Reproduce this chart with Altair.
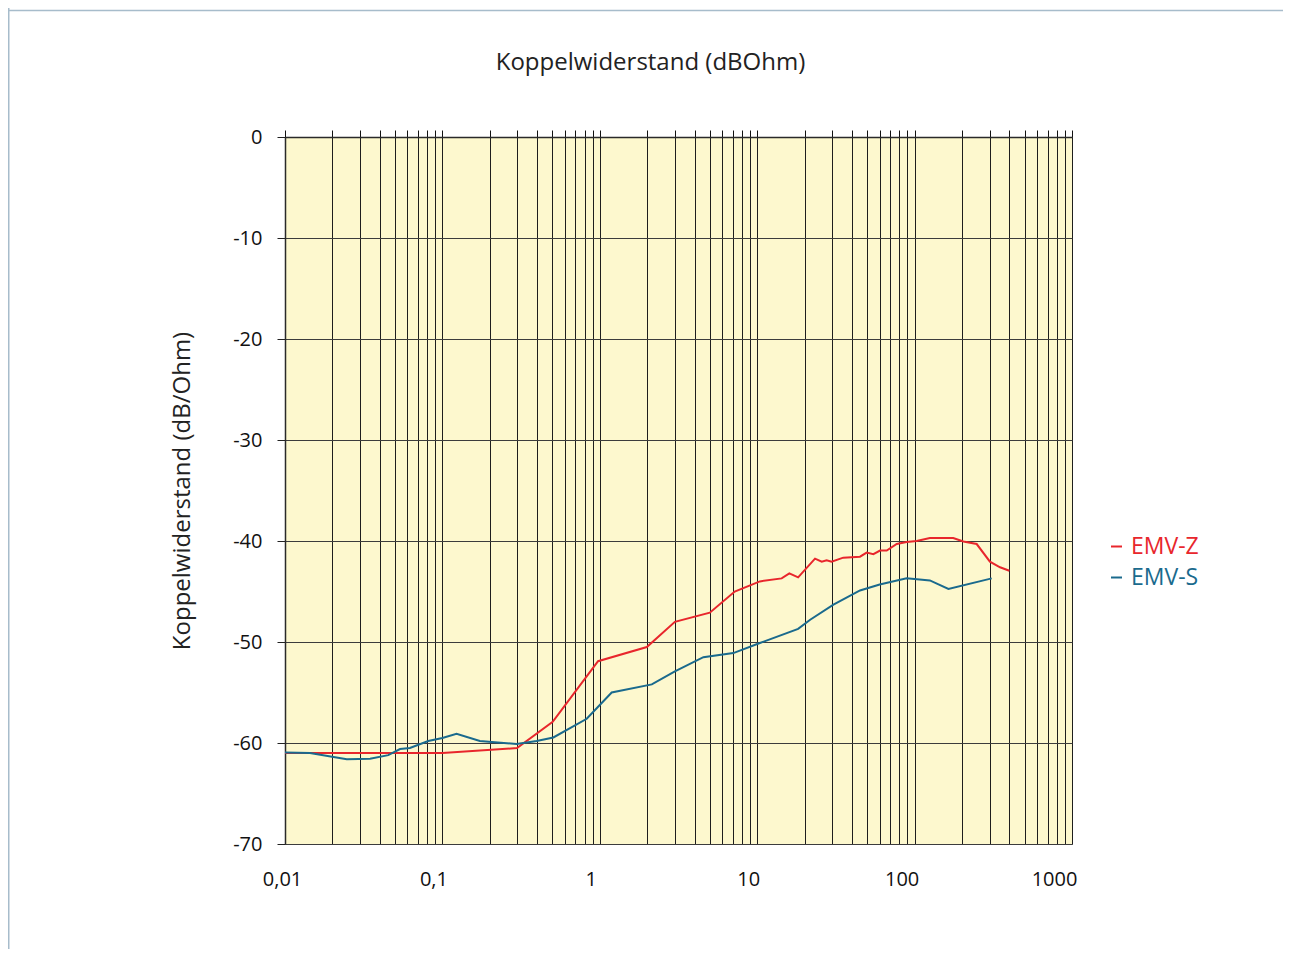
import altair as alt
import pandas as pd

# ---- data ----
series_names = ["EMV-Z", "EMV-S"]
series_colors = ["#E8262C", "#1A6A8D"]

red_x = [0.01, 0.05, 0.1, 0.298, 0.502, 0.975, 1.99, 3.0, 5.0, 7.2, 10.4, 14.3, 16.0, 18.2,
         23.3, 25.7, 27.6, 29.7, 35.2, 45, 49.6, 54.7, 60.3, 66.5, 77, 89, 103, 125, 176,
         204, 248, 301, 349, 400]
red_y = [-61.0, -61.0, -61.0, -60.5, -57.9, -51.9, -50.5, -48.0, -47.1, -45.0, -44.0, -43.7,
         -43.2, -43.6, -41.75, -42.05, -41.9, -42.05, -41.65, -41.55, -41.15, -41.3, -40.95,
         -40.95, -40.3, -40.1, -40.0, -39.7, -39.7, -40.05, -40.3, -42.05, -42.6, -42.95]

blue_x = [0.01, 0.0144, 0.0247, 0.0347, 0.0453, 0.0538, 0.0622, 0.0813, 0.1, 0.123, 0.173,
          0.296, 0.397, 0.507, 0.826, 1.19, 2.14, 3.0, 4.55, 7.05, 10.4, 18.2, 21.7, 30.5,
          45, 60, 89, 125, 164, 309]
blue_y = [-60.95, -61.0, -61.6, -61.55, -61.2, -60.6, -60.5, -59.8, -59.5, -59.1, -59.8,
          -60.1, -59.8, -59.45, -57.6, -55.0, -54.2, -52.9, -51.5, -51.1, -50.1, -48.7,
          -47.8, -46.3, -44.9, -44.3, -43.7, -43.9, -44.75, -43.7]

x_grid = [0.01, 0.02, 0.03, 0.04, 0.05, 0.06, 0.07, 0.08, 0.09,
          0.1, 0.2, 0.3, 0.4, 0.5, 0.6, 0.7, 0.8, 0.9,
          1, 2, 3, 4, 5, 6, 7, 8, 9,
          10, 20, 30, 40, 50, 60, 70, 80, 90,
          100, 200, 300, 400, 500, 600, 700, 800, 900, 1000]
x_label_values = [0.01, 0.1, 1, 10, 100, 1000]
x_label_texts = ["0,01", "0,1", "1", "10", "100", "1000"]
y_ticks = [-70, -60, -50, -40, -30, -20, -10, 0]

chart_title = "Koppelwiderstand (dBOhm)"
y_title = "Koppelwiderstand (dB/Ohm)"

df = pd.DataFrame({
    "f": red_x + blue_x,
    "v": red_y + blue_y,
    "series": [series_names[0]] * len(red_x) + [series_names[1]] * len(blue_x),
})

FONT = "Open Sans"
W, H = 787, 707
PAD = {"left": 277, "top": 129, "right": 211, "bottom": 105}

label_map = "{" + ", ".join(f"'{v}': '{t}'" for v, t in zip(x_label_values, x_label_texts)) + "}"
x_label_expr = f"{label_map}['' + datum.value] || ''"

xscale = alt.Scale(type="log", domain=[0.01, 1000], nice=False)
yscale = alt.Scale(domain=[-70, 0], nice=False)

bottom_axis = alt.Axis(
    orient="bottom", values=x_grid, grid=True, gridColor="#1e1e1e", gridWidth=1,
    ticks=False, tickSize=0, domain=False, labelExpr=x_label_expr,
    labelFont=FONT, labelFontSize=20, labelColor="#111111", labelPadding=25,
    labelOverlap=False, labelFlush=False,
    labelOffset={"expr": "datum.value < 0.05 ? -3 : (datum.value > 500 ? -18 : (datum.value > 50 ? -13 : -9))"},
    title=None,
)
top_axis = alt.Axis(
    orient="top", values=x_grid, grid=False, labels=False, ticks=True, tickSize=7,
    tickColor="#111111", domain=True, domainColor="#2a2a2a", domainWidth=1.5, title=None,
)
left_axis = alt.Axis(
    values=y_ticks, grid=True, gridColor="#3c3c3c", gridWidth=1, tickSize=8,
    tickColor="#222222", domainColor="#2a2a2a", domainWidth=1.5,
    labelFont=FONT, labelFontSize=20, labelColor="#111111", labelPadding=15,
    labelExpr="datum.value + ''", labelFlush=False,
    title=y_title, titleFont=FONT, titleFontSize=24, titleFontWeight="normal",
    titleColor="#222222", titlePadding=38,
)

legend = alt.Legend(
    title=None, orient="none", legendX=820, legendY=398,
    symbolType="stroke", symbolSize=121, symbolStrokeWidth=2,
    labelFont=FONT, labelFontSize=23, labelOffset=3, rowPadding=7,
    labelColor={"expr": f"datum.label == '{series_names[0]}' ? '{series_colors[0]}' : '{series_colors[1]}'"},
)

base = alt.Chart(df)
lines = base.mark_line(strokeWidth=2).encode(
    x=alt.X("f:Q", scale=xscale, axis=bottom_axis),
    y=alt.Y("v:Q", scale=yscale, axis=left_axis),
    color=alt.Color("series:N", scale=alt.Scale(domain=series_names, range=series_colors),
                    legend=legend, sort=series_names),
    detail="series:N",
)
top = base.mark_line(opacity=0).encode(
    x=alt.X("f:Q", scale=xscale, axis=top_axis),
    y=alt.Y("v:Q", scale=yscale, axis=left_axis),
    detail="series:N",
)

one = alt.Chart(pd.DataFrame({"k": [0]}))
border_color = "#A7BCCB"
border_top = one.mark_rule(color=border_color, strokeWidth=1.5).encode(
    x=alt.value(-PAD["left"]), x2=alt.value(W + PAD["right"]), y=alt.value(-126.5))
border_left = one.mark_rule(color=border_color, strokeWidth=1.5).encode(
    x=alt.value(-PAD["left"] + 0.75), y=alt.value(-PAD["top"]), y2=alt.value(H + PAD["bottom"]))

chart = alt.layer(lines, top, border_top, border_left).properties(
    width=W, height=H,
    autosize=alt.AutoSizeParams(type="none"),
    padding=PAD,
    background="white",
    title=alt.TitleParams(chart_title, font=FONT, fontSize=24, fontWeight="normal",
                          color="#222222", dx=-28, offset=-87, anchor="middle",
                          baseline="alphabetic"),
).configure_view(fill="#FDF8CE", stroke="#999999", strokeWidth=1)

chart.save("out.html", embed_options={"renderer": "svg", "actions": False})
